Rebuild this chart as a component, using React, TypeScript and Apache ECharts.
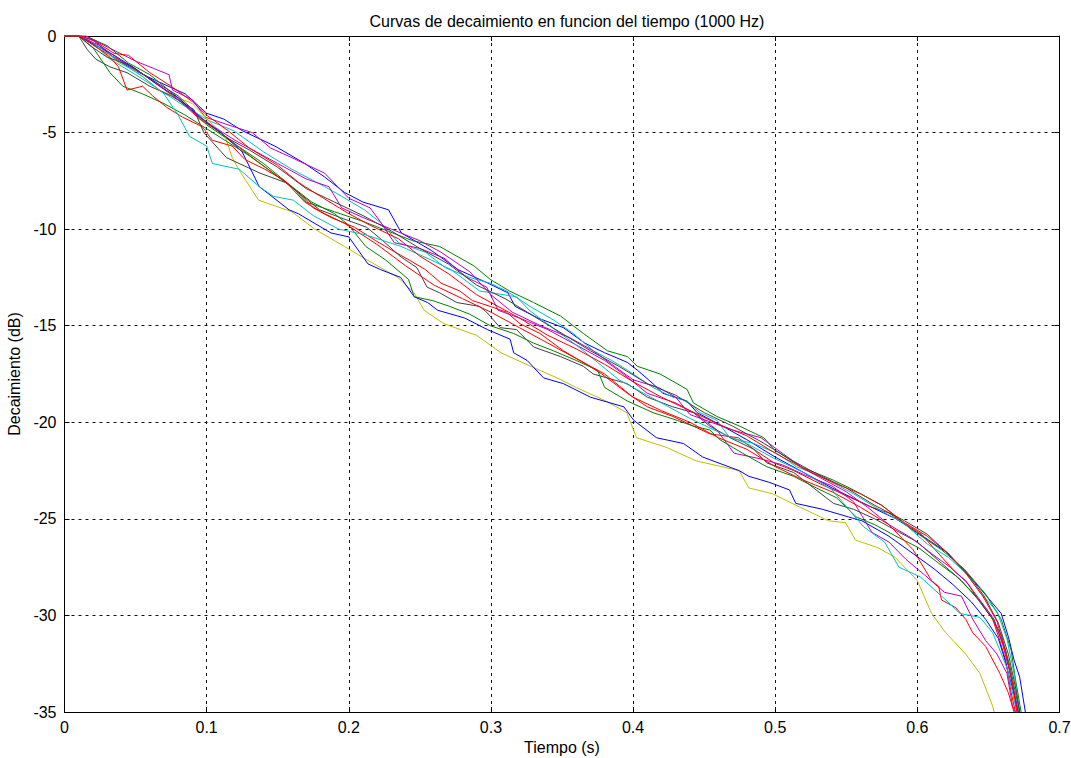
import React, { useEffect, useRef } from "react";
import * as echarts from "echarts";

const titleText = "Curvas de decaimiento en funcion del tiempo (1000 Hz)";
const xAxisName = "Tiempo (s)";
const yAxisName = "Decaimiento (dB)";
const xTickValues = [0, 0.1, 0.2, 0.3, 0.4, 0.5, 0.6, 0.7];
const yTickValues = [-35, -30, -25, -20, -15, -10, -5, 0];

// [tiempo (s), decaimiento (dB)]
const blue1 = [[0,0],[0.01,0],[0.02,-0.2],[0.036,-1.2],[0.05,-1.8],[0.064,-2.3],[0.085,-3.0],[0.1,-4.0],[0.112,-4.3],[0.125,-4.9],[0.148,-5.7],[0.169,-6.6],[0.183,-7.3],[0.197,-8.1],[0.21,-8.6],[0.228,-9.0],[0.237,-10.2],[0.258,-11.1],[0.277,-12.1],[0.298,-12.8],[0.312,-13.3],[0.317,-14.0],[0.333,-14.6],[0.351,-15.1],[0.366,-15.9],[0.38,-16.4],[0.396,-16.9],[0.403,-17.3],[0.414,-18.0],[0.421,-18.5],[0.438,-18.9],[0.445,-19.5],[0.463,-20.2],[0.48,-20.9],[0.5,-21.8],[0.52,-22.6],[0.54,-23.4],[0.565,-24.3],[0.585,-25.0],[0.608,-26.1],[0.62,-26.7],[0.633,-27.7],[0.643,-28.5],[0.659,-29.9],[0.664,-31.1],[0.668,-32.3],[0.672,-33.2],[0.676,-35]];
const green1 = [[0,0],[0.015,0],[0.03,-0.5],[0.045,-1.4],[0.06,-2.0],[0.08,-3.2],[0.1,-4.6],[0.12,-5.6],[0.14,-6.6],[0.16,-7.8],[0.17,-8.6],[0.19,-9.1],[0.21,-9.6],[0.231,-10.2],[0.245,-10.6],[0.264,-10.9],[0.276,-11.4],[0.288,-11.9],[0.2995,-12.6],[0.313,-13.2],[0.33,-13.8],[0.349,-14.5],[0.365,-15.4],[0.382,-16.3],[0.396,-16.6],[0.403,-17.1],[0.419,-17.5],[0.431,-18.0],[0.438,-18.3],[0.4425,-19.0],[0.459,-19.7],[0.475,-20.2],[0.492,-20.8],[0.499,-21.4],[0.518,-22.3],[0.541,-23.0],[0.555,-23.5],[0.575,-24.3],[0.595,-25.5],[0.617,-26.6],[0.633,-27.6],[0.648,-28.9],[0.659,-30.2],[0.666,-31.8],[0.669,-33.3],[0.673,-35]];
const red1 = [[0,0],[0.012,0],[0.025,-0.7],[0.035,-1.1],[0.048,-1.6],[0.065,-2.5],[0.08,-3.3],[0.095,-4.3],[0.11,-5.0],[0.125,-5.9],[0.145,-7.0],[0.1645,-8.1],[0.175,-8.9],[0.1875,-9.4],[0.204,-9.9],[0.219,-10.6],[0.2305,-11.1],[0.2425,-11.6],[0.254,-12.1],[0.265,-12.8],[0.278,-13.2],[0.287,-13.7],[0.2995,-14.0],[0.311,-14.3],[0.3205,-14.9],[0.3345,-15.4],[0.351,-16.3],[0.365,-16.9],[0.378,-17.5],[0.396,-18.5],[0.41,-19.2],[0.428,-19.7],[0.454,-20.6],[0.474,-20.8],[0.485,-21.4],[0.499,-22.1],[0.513,-22.5],[0.532,-23.2],[0.553,-23.9],[0.568,-24.4],[0.58,-24.7],[0.588,-25.1],[0.5945,-25.4],[0.603,-25.8],[0.6125,-26.6],[0.626,-27.7],[0.634,-28.2],[0.643,-29.2],[0.653,-30.2],[0.658,-31.3],[0.662,-32.3],[0.666,-34.0],[0.669,-35]];
const cyan1 = [[0,0],[0.012,0],[0.022,-0.5],[0.032,-1.2],[0.05,-2.0],[0.067,-2.8],[0.086,-3.7],[0.102,-4.4],[0.119,-4.9],[0.14,-6.0],[0.16,-6.9],[0.183,-7.8],[0.195,-8.3],[0.211,-9.0],[0.223,-9.7],[0.235,-10.7],[0.254,-11.2],[0.268,-12.0],[0.285,-12.5],[0.2995,-12.8],[0.311,-13.2],[0.3275,-14.0],[0.344,-14.7],[0.358,-15.4],[0.372,-16.3],[0.385,-16.8],[0.396,-17.3],[0.414,-18.2],[0.428,-18.7],[0.438,-18.9],[0.447,-19.5],[0.459,-19.9],[0.468,-20.8],[0.485,-21.1],[0.501,-21.6],[0.515,-22.3],[0.532,-22.8],[0.555,-23.7],[0.575,-24.6],[0.59,-25.2],[0.607,-26.3],[0.622,-27.0],[0.634,-27.8],[0.644,-28.8],[0.656,-29.8],[0.663,-31.2],[0.668,-33.0],[0.672,-35]];
const magenta1 = [[0,0],[0.015,0],[0.031,-0.6],[0.05,-1.3],[0.0735,-2.0],[0.076,-2.8],[0.09,-3.3],[0.099,-4.2],[0.115,-4.6],[0.132,-5.0],[0.145,-5.8],[0.16,-6.3],[0.183,-7.1],[0.2,-8.4],[0.215,-8.9],[0.222,-9.6],[0.232,-10.7],[0.25,-11.0],[0.267,-11.5],[0.283,-12.5],[0.297,-13.0],[0.305,-14.2],[0.32,-14.6],[0.34,-15.2],[0.36,-16.0],[0.38,-16.8],[0.395,-17.6],[0.41,-18.5],[0.43,-19.0],[0.445,-19.6],[0.459,-20.4],[0.471,-21.6],[0.49,-21.9],[0.505,-22.2],[0.52,-22.7],[0.54,-23.3],[0.555,-24.1],[0.568,-25.7],[0.58,-26.2],[0.592,-27.1],[0.605,-27.9],[0.619,-28.8],[0.631,-29.0],[0.639,-30.2],[0.648,-31.3],[0.656,-32.0],[0.663,-33.0],[0.667,-34.7],[0.669,-35]];
const yellow1 = [[0,0],[0.01,0],[0.025,-0.6],[0.0385,-1.4],[0.05,-1.8],[0.0665,-2.8],[0.09,-3.5],[0.099,-4.2],[0.113,-5.2],[0.118,-6.3],[0.1225,-6.9],[0.1365,-8.5],[0.16,-9.1],[0.176,-10.0],[0.197,-10.9],[0.213,-11.6],[0.2345,-12.5],[0.246,-13.3],[0.253,-14.2],[0.267,-14.9],[0.29,-15.5],[0.307,-16.4],[0.328,-17.1],[0.3465,-17.7],[0.36,-18.2],[0.381,-18.9],[0.3955,-19.5],[0.4025,-20.8],[0.4235,-21.3],[0.4445,-22.0],[0.4745,-22.5],[0.4815,-23.4],[0.498,-23.7],[0.512,-24.2],[0.5375,-25.1],[0.5495,-25.2],[0.5565,-26.1],[0.5725,-26.5],[0.5845,-27.0],[0.6,-28.2],[0.61,-29.9],[0.62,-30.9],[0.634,-32.0],[0.644,-33.0],[0.653,-34.7],[0.654,-35]];
const gray1 = [[0,0],[0.01,0],[0.016,-0.7],[0.022,-1.2],[0.032,-1.6],[0.044,-1.9],[0.06,-2.6],[0.075,-3.1],[0.091,-3.8],[0.098,-5.0],[0.114,-6.3],[0.1375,-7.1],[0.156,-7.6],[0.1795,-9.0],[0.194,-9.4],[0.2125,-9.9],[0.224,-10.6],[0.236,-11.4],[0.248,-12.0],[0.255,-13.0],[0.264,-13.3],[0.276,-13.8],[0.292,-14.0],[0.297,-14.3],[0.3065,-15.1],[0.318,-15.2],[0.33,-16.1],[0.349,-16.6],[0.365,-17.1],[0.372,-17.5],[0.396,-18.0],[0.41,-18.7],[0.428,-19.2],[0.4425,-19.5],[0.454,-20.2],[0.471,-20.9],[0.485,-21.4],[0.494,-22.1],[0.513,-22.6],[0.527,-23.4],[0.541,-24.2],[0.555,-24.5],[0.57,-25.0],[0.585,-25.6],[0.6,-26.2],[0.617,-27.3],[0.631,-28.2],[0.643,-29.2],[0.654,-30.3],[0.662,-31.8],[0.667,-33.6],[0.671,-35]];
const blue2 = [[0,0],[0.01,0],[0.02,-0.4],[0.035,-1.0],[0.05,-1.7],[0.065,-2.5],[0.08,-3.2],[0.095,-4.2],[0.11,-5.0],[0.125,-6.0],[0.137,-7.8],[0.158,-9.0],[0.1645,-9.2],[0.1875,-10.2],[0.2,-10.4],[0.2135,-11.8],[0.2225,-12.1],[0.2365,-12.5],[0.246,-13.5],[0.2555,-13.8],[0.2625,-14.2],[0.2815,-14.6],[0.2975,-15.2],[0.3135,-15.7],[0.316,-16.4],[0.3255,-16.8],[0.337,-17.7],[0.351,-18.0],[0.37,-18.7],[0.3935,-19.2],[0.4005,-19.9],[0.4165,-20.8],[0.4355,-21.1],[0.449,-21.8],[0.4745,-22.5],[0.4815,-22.8],[0.4955,-23.1],[0.51,-23.5],[0.5145,-24.2],[0.533,-24.5],[0.5515,-24.9],[0.561,-25.1],[0.58,-25.9],[0.597,-26.8],[0.612,-27.6],[0.625,-28.4],[0.638,-29.3],[0.648,-30.2],[0.657,-31.2],[0.662,-32.4],[0.667,-33.8],[0.671,-35]];
const green2 = [[0,0],[0.01,0],[0.02,-0.6],[0.032,-1.9],[0.041,-2.6],[0.055,-3.0],[0.07,-3.5],[0.085,-4.1],[0.1,-4.8],[0.115,-5.5],[0.13,-6.2],[0.145,-7.0],[0.16,-7.8],[0.174,-8.6],[0.19,-9.2],[0.2,-9.8],[0.212,-10.9],[0.226,-11.6],[0.242,-12.6],[0.246,-13.5],[0.259,-13.7],[0.271,-14.0],[0.285,-14.4],[0.2995,-15.0],[0.316,-15.4],[0.33,-15.9],[0.344,-16.3],[0.36,-16.8],[0.375,-17.3],[0.38,-18.2],[0.396,-18.9],[0.414,-19.5],[0.431,-19.9],[0.4425,-20.2],[0.454,-20.4],[0.461,-20.9],[0.477,-21.6],[0.494,-22.3],[0.513,-22.8],[0.529,-23.4],[0.543,-23.9],[0.557,-24.9],[0.57,-25.3],[0.585,-25.9],[0.601,-26.5],[0.615,-27.3],[0.628,-28.0],[0.64,-28.9],[0.65,-29.8],[0.659,-31.0],[0.665,-32.6],[0.669,-34.0],[0.672,-35]];
const red2 = [[0,0],[0.01,0],[0.025,-0.7],[0.032,-1.1],[0.038,-1.6],[0.044,-2.8],[0.055,-2.6],[0.062,-3.1],[0.072,-3.7],[0.083,-4.2],[0.097,-4.7],[0.104,-5.4],[0.118,-5.7],[0.127,-6.4],[0.141,-6.9],[0.155,-7.5],[0.169,-8.6],[0.183,-9.2],[0.197,-9.7],[0.22,-10.8],[0.24,-11.9],[0.26,-12.9],[0.28,-13.6],[0.3,-14.3],[0.32,-15.1],[0.34,-15.9],[0.36,-16.7],[0.38,-17.5],[0.4,-18.7],[0.42,-19.4],[0.44,-20.0],[0.46,-20.8],[0.48,-21.4],[0.5,-22.3],[0.52,-23.0],[0.54,-23.6],[0.56,-24.4],[0.58,-25.3],[0.597,-26.6],[0.61,-28.2],[0.615,-28.5],[0.617,-29.2],[0.627,-29.6],[0.634,-30.2],[0.639,-30.9],[0.648,-31.6],[0.658,-33.0],[0.664,-34.0],[0.668,-35]];
const cyan2 = [[0,0],[0.012,0],[0.025,-0.6],[0.04,-1.4],[0.055,-2.1],[0.07,-3.0],[0.08,-4.1],[0.088,-5.2],[0.1,-5.7],[0.104,-6.6],[0.123,-6.9],[0.137,-7.8],[0.147,-8.3],[0.161,-8.5],[0.175,-9.3],[0.193,-10.0],[0.212,-10.3],[0.237,-10.9],[0.258,-11.6],[0.272,-12.1],[0.292,-13.2],[0.318,-13.5],[0.327,-14.2],[0.345,-15.2],[0.36,-16.0],[0.375,-16.9],[0.39,-17.8],[0.405,-18.4],[0.42,-19.0],[0.44,-19.8],[0.46,-20.5],[0.48,-21.1],[0.5,-21.9],[0.52,-22.6],[0.54,-23.5],[0.562,-25.4],[0.577,-26.2],[0.587,-27.5],[0.602,-28.0],[0.62,-29.2],[0.63,-29.9],[0.644,-30.1],[0.653,-30.9],[0.663,-32.7],[0.67,-35]];
const magenta2 = [[0,0],[0.01,0],[0.025,-0.5],[0.04,-1.3],[0.06,-2.2],[0.075,-3.0],[0.09,-3.9],[0.105,-4.7],[0.12,-5.4],[0.135,-6.0],[0.15,-6.6],[0.17,-7.4],[0.186,-7.8],[0.195,-8.9],[0.21,-9.4],[0.23,-10.0],[0.25,-10.6],[0.265,-11.2],[0.285,-12.2],[0.3,-13.4],[0.315,-14.3],[0.335,-15.0],[0.355,-15.6],[0.372,-16.3],[0.385,-17.0],[0.4,-17.8],[0.418,-18.2],[0.43,-18.7],[0.44,-19.6],[0.455,-20.0],[0.47,-20.4],[0.49,-20.8],[0.505,-21.6],[0.52,-22.4],[0.535,-23.0],[0.55,-23.6],[0.565,-24.4],[0.58,-25.3],[0.596,-26.0],[0.61,-26.8],[0.623,-27.5],[0.635,-28.3],[0.645,-29.3],[0.654,-30.2],[0.66,-31.5],[0.666,-33.2],[0.671,-35]];
const gray2 = [[0,0],[0.01,0],[0.018,-0.5],[0.03,-1.1],[0.045,-1.5],[0.06,-2.2],[0.08,-3.1],[0.1,-4.5],[0.115,-5.3],[0.13,-5.9],[0.15,-6.8],[0.17,-7.9],[0.19,-8.6],[0.21,-9.3],[0.23,-10.1],[0.25,-11.0],[0.27,-11.8],[0.29,-12.9],[0.31,-13.6],[0.33,-14.5],[0.35,-15.4],[0.37,-16.3],[0.39,-17.1],[0.41,-18.0],[0.43,-18.6],[0.45,-19.5],[0.47,-20.2],[0.49,-21.0],[0.51,-21.9],[0.53,-22.7],[0.55,-23.4],[0.57,-24.3],[0.591,-25.1],[0.607,-25.8],[0.623,-26.9],[0.636,-27.9],[0.647,-29.0],[0.657,-30.4],[0.664,-32.0],[0.669,-33.7],[0.672,-35]];
const red3 = [[0,0],[0.012,0],[0.022,-0.3],[0.035,-0.9],[0.045,-1.0],[0.06,-1.9],[0.075,-2.6],[0.09,-3.4],[0.1,-4.1],[0.115,-4.9],[0.13,-5.8],[0.15,-6.7],[0.165,-7.6],[0.18,-8.3],[0.2,-9.2],[0.215,-9.8],[0.235,-10.5],[0.25,-11.4],[0.27,-12.3],[0.29,-13.4],[0.305,-14.0],[0.32,-14.6],[0.34,-15.5],[0.36,-16.2],[0.38,-17.0],[0.4,-17.9],[0.42,-18.7],[0.44,-19.4],[0.46,-20.1],[0.48,-20.7],[0.5,-21.6],[0.52,-22.4],[0.54,-23.1],[0.56,-23.7],[0.575,-24.3],[0.591,-25.2],[0.607,-25.9],[0.622,-26.8],[0.635,-27.9],[0.646,-29.0],[0.656,-30.3],[0.662,-31.9],[0.667,-33.5],[0.67,-35]];

const curveNames = ["c1","c2","c3","c4","c5","c6","c7","c8","c9","c10","c11","c12","c13","c14"];
const curveData = [blue1, green1, red1, cyan1, magenta1, yellow1, gray1, blue2, green2, red2, cyan2, magenta2, gray2, red3];
const curveColors = ["#0000FF","#008000","#FF0000","#00BFBF","#BF00BF","#BFBF00","#404040","#0000FF","#008000","#FF0000","#00BFBF","#BF00BF","#404040","#FF0000"];

const FONT = "'Liberation Sans', Arial, sans-serif";

export default function App() {
  const ref = useRef<HTMLDivElement>(null);
  useEffect(() => {
    if (!ref.current) return;
    const chart = echarts.init(ref.current, null, { renderer: "svg" });
    const xMin = xTickValues[0];
    const xMax = xTickValues[xTickValues.length - 1];
    const xInt = xTickValues[1] - xTickValues[0];
    const yMin = yTickValues[0];
    const yMax = yTickValues[yTickValues.length - 1];
    const yInt = yTickValues[1] - yTickValues[0];
    const axisCommon = {
      axisLine: { show: true, onZero: false, lineStyle: { color: "#000", width: 1 } },
      axisTick: { show: true, inside: true, length: 5, lineStyle: { color: "#000" } },
    };
    const labelStyle = { color: "#000", fontSize: 16, fontFamily: FONT };
    chart.setOption({
      animation: false,
      backgroundColor: "#fff",
      title: {
        text: titleText,
        left: 562,
        textAlign: "center",
        top: 8,
        textStyle: { fontSize: 16, fontWeight: "normal", color: "#000", fontFamily: FONT },
      },
      grid: { left: 64.5, right: 11.5, top: 36, bottom: 46, containLabel: false, outerBoundsMode: "none" },
      xAxis: [
        {
          type: "value", position: "bottom", min: xMin, max: xMax, interval: xInt,
          ...axisCommon,
          axisLabel: { ...labelStyle, margin: 7, formatter: (v: number) => (v === 0 ? "0" : String(Math.round(v * 10) / 10)) },
          splitLine: { show: true, lineStyle: { color: "#111", type: [3, 4], width: 1 } },
          name: xAxisName, nameLocation: "middle", nameGap: 25,
          nameTextStyle: { ...labelStyle },
        },
        {
          type: "value", position: "top", min: xMin, max: xMax, interval: xInt,
          ...axisCommon, axisLabel: { show: false }, splitLine: { show: false },
        },
      ],
      yAxis: [
        {
          type: "value", position: "left", min: yMin, max: yMax, interval: yInt,
          ...axisCommon,
          axisLabel: { ...labelStyle, margin: 8 },
          splitLine: { show: true, lineStyle: { color: "#111", type: [3, 4], width: 1 } },
          name: yAxisName, nameLocation: "middle", nameGap: 39, nameRotate: 90,
          nameTextStyle: { ...labelStyle },
        },
        {
          type: "value", position: "right", min: yMin, max: yMax, interval: yInt,
          ...axisCommon, axisLabel: { show: false }, splitLine: { show: false },
        },
      ],
      series: curveData.map((d, i) => ({
        name: curveNames[i],
        type: "line",
        xAxisIndex: 0,
        yAxisIndex: 0,
        data: d,
        showSymbol: false,
        symbol: "none",
        silent: true,
        lineStyle: { color: curveColors[i], width: 1 },
        itemStyle: { color: curveColors[i] },
        z: 3,
      })),
    });
    return () => chart.dispose();
  }, []);
  return (
    <div
      ref={ref}
      style={{ position: "absolute", left: 0, top: 0, width: 1071, height: 758, background: "#fff" }}
    />
  );
}
